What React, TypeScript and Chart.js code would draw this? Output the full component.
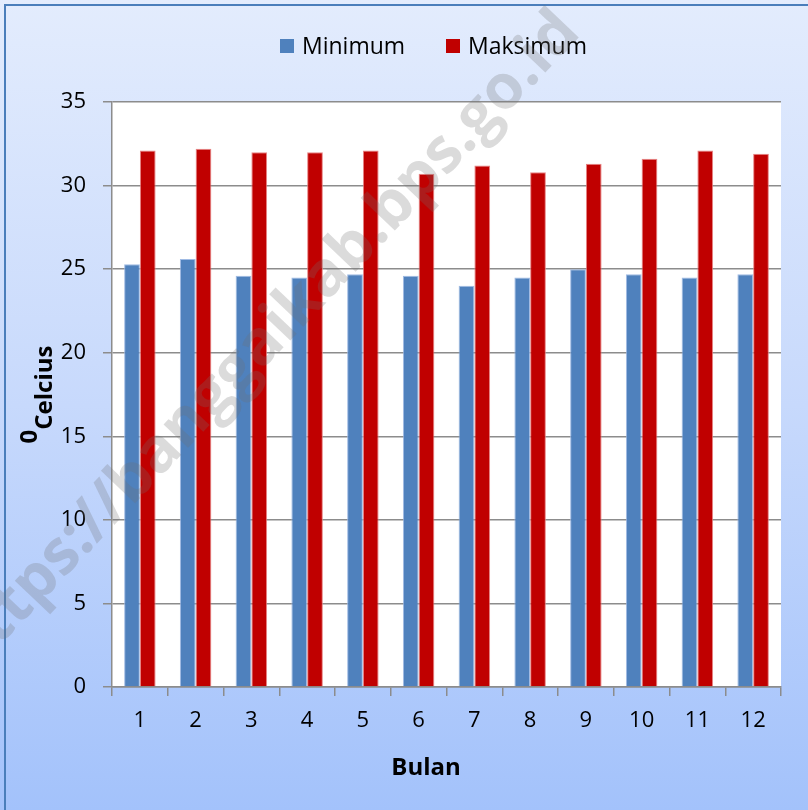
import React, { useEffect, useRef } from "react";
import { Chart, registerables } from "chart.js";

Chart.register(...registerables);

// Suhu udara minimum dan maksimum per bulan (°C)
const months: string[] = ["1", "2", "3", "4", "5", "6", "7", "8", "9", "10", "11", "12"];
const minimumTemps: number[] = [25.3, 25.6, 24.6, 24.5, 24.7, 24.6, 24.0, 24.5, 25.0, 24.7, 24.5, 24.7];
const maximumTemps: number[] = [32.1, 32.2, 32.0, 32.0, 32.1, 30.7, 31.2, 30.8, 31.3, 31.6, 32.1, 31.9];
const seriesNames: string[] = ["Minimum", "Maksimum"];
const seriesColors: string[] = ["#4F81BD", "#C00000"];
const yAxisTitle = "Celcius";
const yAxisTitleSup = "0";
const xAxisTitle = "Bulan";
const watermarkText = "https://banggaikab.bps.go.id";

const FONT = "'Open Sans', 'DejaVu Sans', sans-serif";

const decorPlugin = {
  id: "decor",
  beforeDraw(chart: any) {
    const { ctx, width, height, chartArea } = chart;
    ctx.save();
    const g = ctx.createLinearGradient(0, 0, 0, height);
    g.addColorStop(0, "#e3ecfd");
    g.addColorStop(0.5, "#c7d9fc");
    g.addColorStop(1, "#a3c2fb");
    ctx.fillStyle = g;
    ctx.fillRect(0, 0, width, height);
    // frame
    ctx.strokeStyle = "#4a7ebb";
    ctx.lineWidth = 2;
    ctx.strokeRect(5, 5, width + 10, height + 10);
    // plot area
    ctx.fillStyle = "#ffffff";
    ctx.fillRect(chartArea.left, chartArea.top, chartArea.right - chartArea.left, chartArea.bottom - chartArea.top);
    ctx.restore();
  },
  afterDraw(chart: any) {
    const { ctx, chartArea } = chart;
    ctx.save();
    // legend
    ctx.textBaseline = "middle";
    ctx.textAlign = "left";
    ctx.font = `23px ${FONT}`;
    ctx.fillStyle = "#000";
    const legendY = 46;
    const items = [
      { x: 280, color: seriesColors[0], text: seriesNames[0] },
      { x: 446, color: seriesColors[1], text: seriesNames[1] },
    ];
    for (const it of items) {
      ctx.fillStyle = it.color;
      ctx.fillRect(it.x, legendY - 7, 14, 14);
      ctx.fillStyle = "#000";
      ctx.fillText(it.text, it.x + 22, legendY + 1);
    }
    // x title
    ctx.font = `bold 24px ${FONT}`;
    ctx.textAlign = "center";
    ctx.fillText(xAxisTitle, 426, 768);
    // y title (rotated) with raised "0"
    const cy = (chartArea.top + chartArea.bottom) / 2;
    ctx.translate(52, cy);
    ctx.rotate(-Math.PI / 2);
    ctx.textBaseline = "alphabetic";
    ctx.textAlign = "left";
    const supW = ctx.measureText(yAxisTitleSup).width;
    const mainW = ctx.measureText(yAxisTitle).width;
    const total = supW + mainW;
    ctx.fillText(yAxisTitleSup, -total / 2, -15);
    ctx.fillText(yAxisTitle, -total / 2 + supW, 0);
    ctx.restore();

    // watermark
    ctx.save();
    ctx.translate(582, 34);
    ctx.rotate(-46.4 * Math.PI / 180);
    ctx.font = `bold 62px ${FONT}`;
    ctx.textAlign = "right";
    ctx.textBaseline = "alphabetic";
    ctx.fillStyle = "rgba(110,110,110,0.25)";
    ctx.fillText(watermarkText, 0, 0);
    ctx.restore();
  },
};

export default function App() {
  const canvasRef = useRef<HTMLCanvasElement | null>(null);

  useEffect(() => {
    if (!canvasRef.current) return;
    const chart = new Chart(canvasRef.current, {
      type: "bar",
      data: {
        labels: months,
        datasets: [
          {
            label: seriesNames[0],
            data: minimumTemps,
            backgroundColor: seriesColors[0],
            borderColor: "rgba(150,180,225,0.9)",
            borderWidth: { top: 1, left: 1, right: 1, bottom: 0 },
            categoryPercentage: 0.565,
            barPercentage: 1,
          },
          {
            label: seriesNames[1],
            data: maximumTemps,
            backgroundColor: seriesColors[1],
            borderColor: "rgba(230,120,120,0.9)",
            borderWidth: { top: 1, left: 1, right: 1, bottom: 0 },
            categoryPercentage: 0.565,
            barPercentage: 1,
          },
        ],
      },
      plugins: [decorPlugin],
      options: {
        animation: false,
        responsive: false,
        maintainAspectRatio: false,
        devicePixelRatio: 1,
        layout: { padding: { top: 102, right: 27, bottom: 0, left: 0 } },
        plugins: {
          legend: { display: false },
          tooltip: { enabled: false },
          title: { display: false },
        },
        scales: {
          x: {
            grid: {
              display: true,
              drawOnChartArea: false,
              drawTicks: true,
              tickLength: 9,
              color: "#8c8c8c",
              lineWidth: 1.5,
              offset: true,
            },
            border: { display: true, color: "#8c8c8c", width: 1.5 },
            ticks: {
              color: "#000",
              font: { family: FONT, size: 22 },
              padding: 12,
              maxRotation: 0,
            },
            afterFit(scale: any) {
              scale.height = 123;
            },
          },
          y: {
            min: 0,
            max: 35,
            ticks: {
              stepSize: 5,
              color: "#000",
              font: { family: FONT, size: 22 },
              padding: 17,
            },
            grid: {
              color: "#8c8c8c",
              lineWidth: 1.5,
              drawTicks: true,
              tickLength: 9,
            },
            border: { display: true, color: "#8c8c8c", width: 1.5 },
            afterFit(scale: any) {
              scale.width = 112;
            },
          },
        },
      },
    });
    return () => chart.destroy();
  }, []);

  return (
    <div style={{ position: "fixed", left: 0, top: 0, width: 808, height: 810 }}>
      <canvas ref={canvasRef} width={808} height={810} style={{ display: "block", width: 808, height: 810 }} />
    </div>
  );
}
